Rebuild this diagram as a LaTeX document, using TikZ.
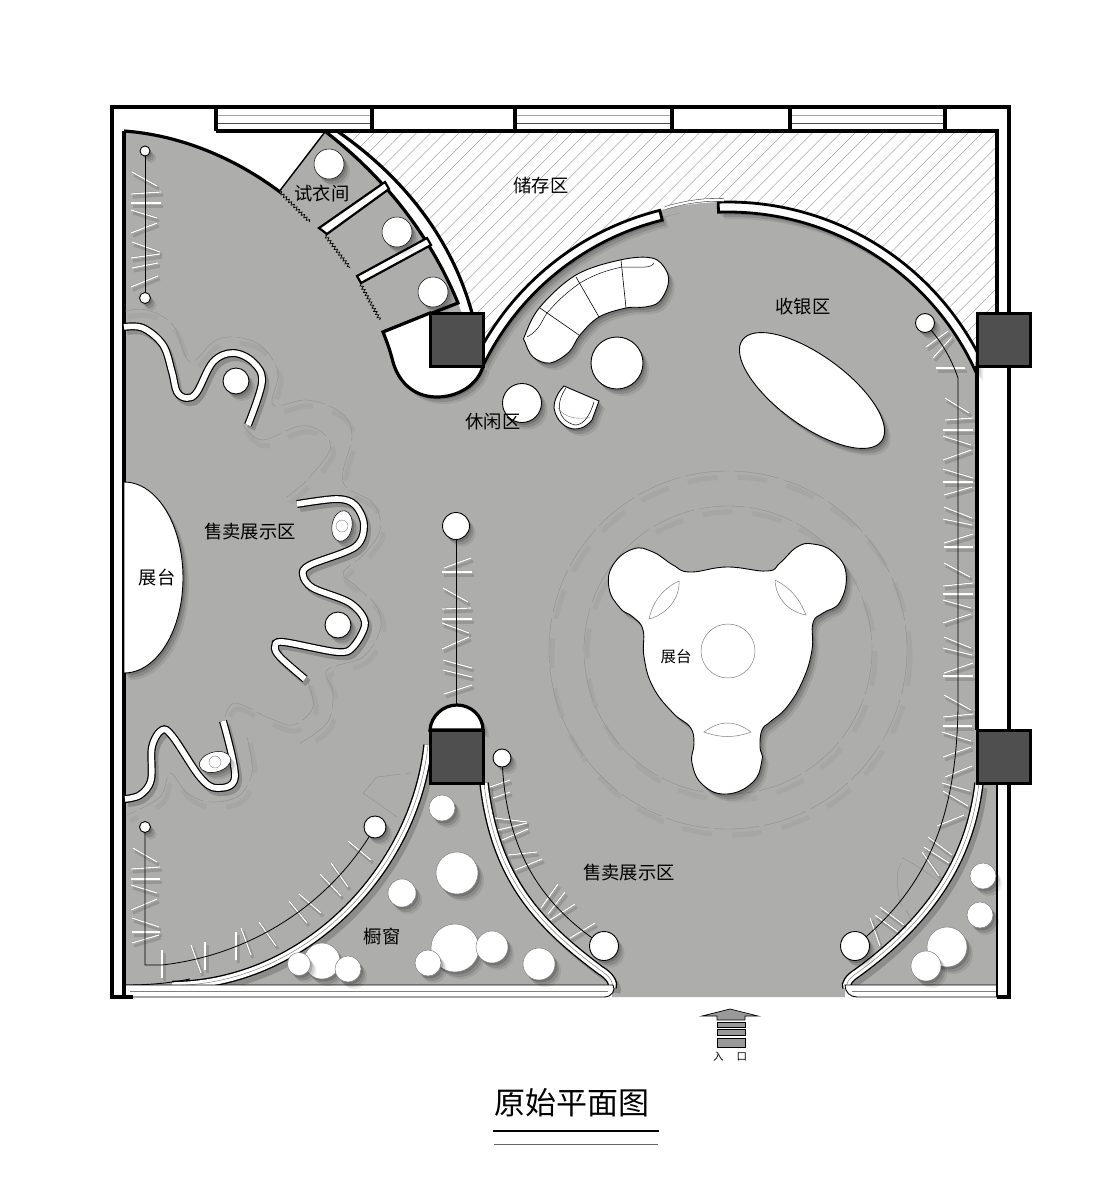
\documentclass[tikz,border=0pt]{standalone}
\usepackage{fontspec}
\newfontfamily\cjk{Noto Sans CJK SC}
\usetikzlibrary{calc,shadows,patterns.meta,decorations.pathmorphing}
\definecolor{floorgray}{HTML}{ADADAB}
\definecolor{columngray}{HTML}{4F4F4F}
\tikzset{
  softshade/.style={general shadow={fill=black,opacity=.08,shadow xshift=6pt,shadow yshift=-7pt},
    general shadow={fill=black,opacity=.12,shadow xshift=4pt,shadow yshift=-5pt},
    general shadow={fill=black,opacity=.16,shadow xshift=2pt,shadow yshift=-2.5pt}},
  whitepiece/.style={draw=black,line width=.9,fill=white,softshade},
  thinpiece/.style={draw=gray,line width=.5,fill=white,softshade},
  column/.style={draw=black,line width=3,fill=columngray},
  mainline/.style={draw=black,line width=3.2},
  curvewall/.style={draw=white,line width=5.6,line join=round,
    preaction={draw=black,opacity=.18,line width=8,transform canvas={shift={(3pt,-4pt)}}},
    preaction={draw=black,line width=8}},
  triplewall/.style={draw=gray,line width=.5,
    preaction={draw=black,opacity=.18,line width=9,transform canvas={shift={(4pt,-5pt)}}},
    preaction={draw=black,line width=9.5},
    preaction={draw=white,line width=6.8}},
  ticknote/.style={draw=white,line width=1.2,
    preaction={draw=black,opacity=.13,line width=3,transform canvas={shift={(2pt,-3pt)}}},
    preaction={draw=gray,line width=1.8}},
  trackline/.style={draw=black,line width=.8},
  ghostline/.style={draw=black!45,line width=.35,dash pattern=on 45pt off 5pt},
  ghostblur/.style={draw=black,opacity=.035,line width=5,dash pattern=on 30pt off 20pt,transform canvas={shift={(3pt,-6pt)}}},
  curtain/.style={draw=black,line width=.7,decorate,decoration={zigzag,segment length=3.6pt,amplitude=1.5pt}},
  roomlbl/.style={font=\cjk\fontsize{18.3}{19}\selectfont,text=black,inner sep=0pt},
}
\begin{document}
\begin{tikzpicture}[x=1pt,y=-1pt]
\useasboundingbox (0,0) rectangle (1113,1200);
\fill[white] (0,0) rectangle (1113,1200);
\coordinate (archc) at (728,484);
\coordinate (ringc) at (728,650);

% floor
\fill[floorgray] (124,131) -- (997,131) -- (997,985) -- (845,985) -- (845,997) -- (612,997) -- (612,985) -- (124,985) -- cycle;
\fill[white] (977,366) rectangle (1007,730);

% storage
\path[fill=white] (337,131) -- (997,131) -- (997,313) -- (977,313) -- (977,352) arc[start angle=332.1,end angle=209.3,radius=282] -- (482,313) -- (472,313) .. controls (452,240) and (405,178) .. (337,131) -- cycle;
\path[pattern={Lines[angle=45,distance=10pt,line width=.35pt]},pattern color=black!45] (337,131) -- (997,131) -- (997,313) -- (977,313) -- (977,352) arc[start angle=332.1,end angle=209.3,radius=282] -- (482,313) -- (472,313) .. controls (452,240) and (405,178) .. (337,131) -- cycle;

% white corner
\fill[white] (124,131) .. controls (180,135) and (235,158) .. (280,192) -- (326,132) -- (326,131) -- cycle;
\draw[mainline] (124,131) .. controls (180,135) and (235,158) .. (280,192) -- (326,132);

% fitting rooms
\fill[white] (326,132) .. controls (385,178) and (430,235) .. (458,303) -- (462,313) -- (472,313) .. controls (452,240) and (405,178) .. (337,131) -- cycle;
\draw[mainline] (337,131) .. controls (405,178) and (452,240) .. (472,313);
\fill[floorgray] (326,132) -- (280,192) -- (385,332) -- (458,303) .. controls (430,235) and (385,178) .. (326,132) -- cycle;
\draw[mainline] (326,132) .. controls (385,178) and (430,235) .. (458,303) -- (383,332);
\draw[mainline,line width=2.2,fill=white] (385,182) -- (389,189) -- (327,234) -- (319,228) -- cycle;
\draw[mainline,line width=2.2,fill=white] (427,238) -- (431,245) -- (361,283) -- (357,276) -- cycle;
\draw[curtain] (280,192) -- (310,222);
\draw[curtain] (325,235) -- (350,268);
\draw[curtain] (360,283) -- (380,320);
\foreach \p in {{329,164},{397,232},{433,292}}
  \path[thinpiece,draw=black,line width=.5] (\p) circle[radius=15];

% arch walls
\draw[mainline,line width=2.8,fill=white,softshade] (archc) ++(209.3:282) arc[start angle=209.3,end angle=256,radius=282] -- ($(archc)+(256:272)$) arc[start angle=256,end angle=205.2,radius=272] -- cycle;
\draw[mainline,line width=2.8,fill=white,softshade] (archc) ++(268:282) arc[start angle=268,end angle=332.1,radius=282] -- ($(archc)+(336.3:272)$) arc[start angle=336.3,end angle=268,radius=272] -- cycle;
\draw[draw=white,line width=2.2,preaction={draw=black!65,line width=3.4}] (665,208) .. controls (685,202) and (705,199) .. (724,200);
\draw[ghostline,dash pattern=on 7pt off 2pt] (664,217) -- (680,213);

% pill and dome
\draw[mainline,fill=white,softshade] (383,332) -- (430,313) -- (483,366) .. controls (478,385) and (458,397) .. (437,397) .. controls (412,397) and (398,380) .. (393,362) .. controls (390,350) and (387,342) .. (383,332) -- cycle;
\draw[mainline,fill=white,softshade] (430,730) .. controls (431,716) and (443,705) .. (457,705) .. controls (471,705) and (483,716) .. (483,730) -- cycle;

% bottom curved walls
\draw[triplewall] (428,745) .. controls (415,870) and (305,985) .. (172,985.5);
\draw[draw=black,line width=.9] (190,979) .. controls (170,983) and (150,985) .. (126,985);
\draw[triplewall] (484,783) .. controls (495,880) and (540,925) .. (600,970) .. controls (610,976) and (614,983) .. (612,988);
\draw[triplewall] (979,783) .. controls (970,860) and (930,920) .. (857,973) .. controls (849,978) and (845,984) .. (847,988);

% bottom strips
\draw[draw=black,line width=.9,fill=white] (124,985) -- (613,985) .. controls (616,990) and (612,997) .. (604,997) -- (124,997) -- cycle;
\draw[draw=black,line width=.9,fill=white] (997,985) -- (845,985) .. controls (845,992) and (850,997) .. (857,997) -- (997,997) -- cycle;
\draw[draw=gray,line width=.4] (130,991) -- (608,991);
\draw[draw=gray,line width=.4] (852,991) -- (997,991);

% outer walls
\draw[mainline] (133,997) -- (112,997) -- (112,107) -- (1009,107) -- (1009,997) -- (997,997);
\draw[mainline] (124,131) -- (124,997);
\draw[mainline] (216,131) -- (997,131) -- (997,313);
\draw[mainline] (977,366) -- (977,730);
\draw[draw=black,line width=1.2] (997,783) -- (997,997);
\foreach \x/\w in {216/372,515/672,790/945} {
  \draw[draw=black!35,line width=.9] (\x,115) -- (\w,115);
  \draw[draw=black!70,line width=.9] (\x,123) -- (\w,123);
}
\foreach \x in {216,372,515,672,790,945}
  \draw[mainline] (\x,107) -- (\x,131);

% columns
\draw[column] (430,313) rectangle (483,366);
\draw[column] (430,730) rectangle (483,783);
\draw[column] (977,313) rectangle (1030,366);
\draw[column] (977,730) rectangle (1030,783);

% faint outlines
\foreach \sty in {ghostblur,ghostline} {
  \draw[\sty] plot[smooth,tension=.6] coordinates {(125,311)(147,310)(173,325)(190,362)(213,342)(233,337)(260,345)(278,372)(273,405)(307,400)(340,412)(352,435)(343,482)(373,503)(380,530)(363,555)(343,573)(357,587)(377,607)(380,630)(363,657)(327,670)(333,693)(327,723)(297,745)};
  \draw[\sty] plot[smooth,tension=.6] coordinates {(243,425)(262,440)(300,426)(323,433)(330,450)(307,480)(287,497)};
  \draw[\sty] plot[smooth,tension=.6] coordinates {(307,680)(313,707)(293,725)(267,717)(235,703)(225,717)};
  \draw[\sty] plot[smooth,tension=.6] coordinates {(247,737)(252,763)(250,780)(237,797)(210,802)(187,793)(170,773)(160,797)(127,815)};
  \draw[\sty] (ringc) circle[radius=179];
  \draw[\sty] (ringc) circle[radius=144];
}
\draw[ghostline] (363,793) -- (377,777) -- (410,773);
\draw[ghostline] (363,793) -- (397,817);
\draw[ghostline] (940,882) -- (920,868) -- (903,858) -- (898,870) -- (897,883) -- (900,903) -- (908,913) -- (912,922);

% wavy display walls
\draw[curvewall] plot[smooth,tension=.6] coordinates {(124,327)(143,328)(163,345)(172,372)(177,392)(187,398)(197,392)(213,362)(233,353)(253,362)(262,382)(248,425)};
\draw[curvewall] plot[smooth,tension=.55] coordinates {(297,504)(337,499)(355,505)(364,525)(355,547)(310,565)(303,575)(313,588)(350,603)(365,623)(353,647)(337,652)(283,642)(275,647)(280,657)(305,679)};
\draw[curvewall] plot[smooth,tension=.6] coordinates {(125,799)(140,795)(151,780)(152,747)(162,730)(173,737)(200,777)(217,788)(235,777)(223,721)};
\path[thinpiece,draw=black,shift={(342,526)},rotate=-10] (0,0) ellipse[x radius=10,y radius=15.5];
\draw[draw=gray,line width=.4] (342,526) circle[radius=6];
\path[thinpiece,draw=black,shift={(215,762)},rotate=15] (0,0) ellipse[x radius=16,y radius=10];
\draw[draw=gray,line width=.4] (215,762) circle[radius=6];
\foreach \p/\r in {{236,381}/13,{338,625}/13}
  \path[whitepiece] (\p) circle[radius=\r];

% display tracks
\foreach \p/\q in {{132,172}/{157,186},{131,194}/{161,192},{131,203}/{161,203},{131,210}/{157,218},{131,233}/{157,223},{132,242}/{160,252},{131,258}/{160,254},{132,268}/{158,263},{131,287}/{158,276},
  {444,568}/{471,558},{442,572}/{472,572},{443,588}/{468,602},{442,609}/{471,608},{442,619}/{472,619},{442,623}/{469,633},{442,649}/{469,637},{443,660}/{472,668},{443,670}/{472,677},{444,694}/{472,685},
  {133,848}/{157,862},{131,869}/{160,867},{131,879}/{160,879},{131,885}/{157,893},{131,910}/{157,899},{132,918}/{159,927},{132,932}/{160,932},{132,943}/{159,935},{162,950}/{162,978},{191,945}/{201,973},{205,942}/{205,970},{236,932}/{236,960},{241,928}/{251,955},{259,922}/{276,946},{289,901}/{307,923},{299,894}/{321,913},{320,874}/{341,896},{331,863}/{348,887},{348,841}/{371,860},
  {490,787}/{510,780},{493,798}/{510,792},{495,818}/{527,822},{498,830}/{527,823},{502,840}/{528,829},{508,855}/{537,852},{515,870}/{542,859},{541,908}/{558,884},{548,914}/{565,892},{550,920}/{575,904},{570,938}/{595,923},
  {926,347}/{948,331},{933,358}/{952,337},{936,368}/{965,368},{945,398}/{969,413},{945,420}/{973,418},{943,430}/{973,430},{943,436}/{971,445},{943,460}/{971,450},{943,469}/{973,478},{943,482}/{973,482},{944,495}/{972,487},{944,507}/{972,518},{943,519}/{972,525},{944,543}/{973,534},{944,547}/{973,547},{944,563}/{970,577},{943,586}/{973,583},{943,594}/{973,594},{943,600}/{971,608},{943,623}/{971,614},{944,637}/{971,648},{943,648}/{972,655},{944,673}/{973,663},{943,676}/{973,676},{944,695}/{971,710},{943,717}/{973,714},{943,726}/{972,726},{942,732}/{971,741},{943,757}/{971,747},{945,777}/{972,766},{942,783}/{970,791},{943,791}/{968,806},{937,826}/{964,815},{928,837}/{952,855},{924,847}/{949,863},{922,852}/{939,876},{880,907}/{904,925},{875,915}/{898,932},{870,918}/{880,946}}
  \draw[ticknote] (\p) -- (\q);
\draw[trackline] (145,151) -- (145,298);
\draw[trackline] (456,526) -- (456,705);
\draw[trackline] (145,827) -- (145,965) -- (162,965) .. controls (250,955) and (330,905) .. (375,827);
\draw[trackline] (502,758) .. controls (505,830) and (525,895) .. (604,946);
\draw[trackline] (855,946) .. controls (925,890) and (958,820) .. (958,700) -- (958,378) .. controls (950,355) and (940,340) .. (925,323);
\foreach \p/\r in {{145,151}/5,{145,298}/5.5,{145,827}/5.5,{456,526}/13.5,{375,827}/11,{502,758}/9,{604,946}/14.5,{855,946}/14.5,{925,323}/9.5}
  \path[whitepiece] (\p) circle[radius=\r];

% window props
\foreach \p/\r in {{442,808}/13,{457,873}/21,{402,893}/14,{455,948}/24,{492,947}/16,{428,963}/13,{539,964}/16,{322,961}/18,{299,964}/11.5,{348,969}/13,{983,876}/13,{980,915}/13,{947,947}/20,{926,966}/15}
  \path[thinpiece] (\p) circle[radius=\r];

% sofa and tables
\path[whitepiece] plot[smooth cycle,tension=.6] coordinates {(525,335)(540,307)(576,275)(620,260)(652,258)(666,270)(668,285)(659,302)(645,307)(626,308)(599,317)(580,335)(569,352)(550,363)(533,357)(525,342)};
\draw[draw=black,line width=.5] (527,337) .. controls (540,330) and (542,320) .. (547,313) .. controls (560,298) and (570,290) .. (580,283) .. controls (595,274) and (608,270) .. (622,267) -- (645,267) .. controls (650,267) and (653,265) .. (654,263);
\draw[draw=black,line width=.6] (540,308) -- (579,335);
\draw[draw=black,line width=.6] (576,277) -- (599,317);
\draw[draw=black,line width=.6] (621,260) -- (626,308);
\path[whitepiece] (617,363) circle[radius=26];
\path[whitepiece] (522,403) circle[radius=19.5];
\path[whitepiece] (564,386) -- (599,401) -- (592,420) .. controls (586,427) and (581,429) .. (575,429) .. controls (566,429) and (556,421) .. (554,408) .. controls (554,400) and (558,392) .. (564,386) -- cycle;
\draw[draw=black,line width=.5] (566,388) .. controls (556,402) and (556,420) .. (575,425) .. controls (584,425) and (590,415) .. (594,402);
\draw[draw=gray,line width=.4] (558,408) .. controls (565,418) and (578,420) .. (590,417);
\path[whitepiece,shift={(812,390.5)},rotate=-36] (0,0) ellipse[x radius=86,y radius=35];

% main stand
\path[whitepiece] plot[smooth cycle,tension=.75] coordinates {(690,572)(727,567)(767,571)(780,563)(797,547)(813,544)(833,552)(846,573)(840,602)(823,613)(813,623)(812,650)(803,680)(787,707)(770,722)(762,730)(760,747)(762,760)(753,782)(727,794)(703,785)(692,763)(694,743)(690,727)(673,713)(653,687)(644,657)(643,630)(633,617)(620,608)(609,588)(613,565)(633,549)(653,552)(673,565)};
\draw[draw=gray,line width=.5] (728,651) circle[radius=27];
\draw[draw=gray,line width=.5] (679,581) .. controls (660,590) and (652,605) .. (649,619) .. controls (665,615) and (680,600) .. (679,581) -- cycle;
\draw[draw=gray,line width=.5] (775,580) .. controls (795,590) and (802,605) .. (806,615) .. controls (790,612) and (776,600) .. (775,580) -- cycle;
\draw[draw=gray,line width=.5] (704,732) .. controls (720,720) and (735,720) .. (751,732) .. controls (735,738) and (720,738) .. (704,732) -- cycle;
\path[whitepiece,draw=black] (124,482) .. controls (157,482) and (183,525) .. (183,578) .. controls (183,630) and (157,673) .. (124,673) -- cycle;

% labels
\node[roomlbl] (fitting) at (322,194) {试衣间};
\node[roomlbl] (storage) at (541,186) {储存区};
\node[roomlbl] (cashier) at (803,307) {收银区};
\node[roomlbl] (lounge) at (493,422) {休闲区};
\node[roomlbl] (saleleft) at (250,532) {售卖展示区};
\node[roomlbl] (standleft) at (157,578) {展台};
\node[roomlbl,font=\cjk\fontsize{15.5}{16}\selectfont] (standmain) at (676,657) {展台};
\node[roomlbl] (saleright) at (629,873) {售卖展示区};
\node[roomlbl] (showwin) at (382,937) {橱窗};

% entrance
\draw[draw=black,line width=.7,fill=gray!80] (702,1016) -- (730,1009) -- (758,1016) -- (745,1016) -- (745,1020) -- (717,1020) -- (717,1016) -- cycle;
\foreach \t/\b in {1022/1027,1029/1035,1038/1047}
  \draw[draw=black,line width=.7,fill=gray!80] (717,\t) rectangle (745,\b);
\node[inner sep=0pt,font=\cjk\fontsize{10.5}{11}\selectfont] (entrance) at (730,1057) {入\hspace{13pt}口};

% title
\node[inner sep=0pt,font=\cjk\fontsize{31}{32}\selectfont] (title) at (572,1103) {原始平面图};
\draw[draw=black,line width=2.6] (493,1131) -- (659,1131);
\draw[draw=black!60,line width=.9] (494,1144) -- (658,1144);
\end{tikzpicture}
\end{document}
